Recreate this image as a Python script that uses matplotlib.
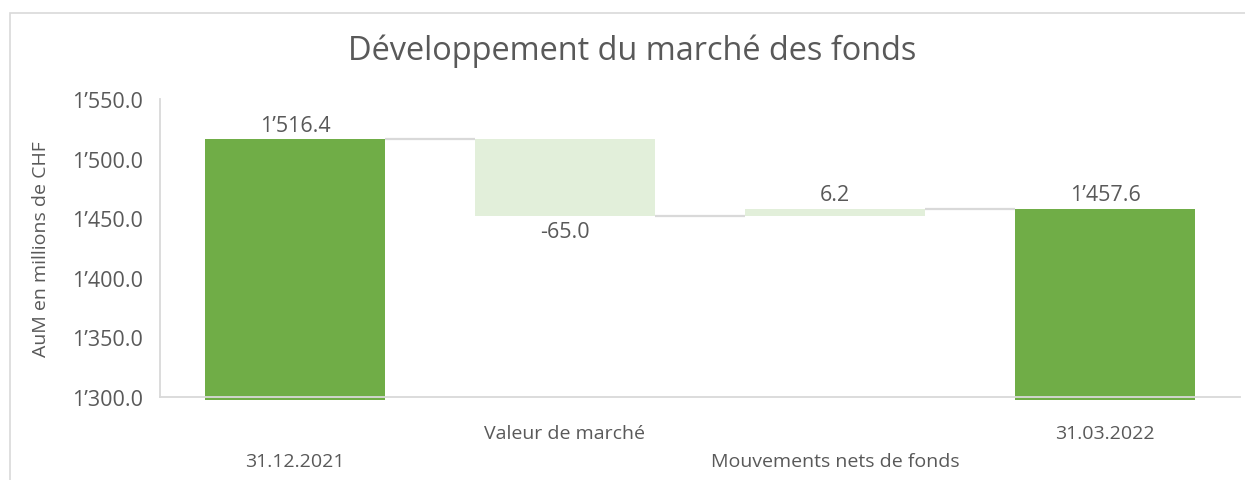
import matplotlib.pyplot as plt
import matplotlib.patches as patches
import numpy as np

plt.rcParams['font.family'] = ['Open Sans', 'DejaVu Sans']

categories = ['31.12.2021', 'Valeur de marché', 'Mouvements nets de fonds', '31.03.2022']
values = [1516.4, -65.0, 6.2, 1457.6]
is_total = [True, False, False, True]
y_ticks = [1300, 1350, 1400, 1450, 1500, 1550]

dark = '#70AD47'
light = '#E2EFDA'
grey_line = '#D9D9D9'
text_col = '#595959'


def fmt(v):
    return f'{v:,.1f}'.replace(',', '\u2019')


# waterfall geometry
x = np.arange(len(categories))
bottoms, heights, levels = [], [], []
level = 0.0
for v, tot in zip(values, is_total):
    if tot:
        bottoms.append(None)
        heights.append(v)
        level = v
    else:
        bottoms.append(min(level, level + v))
        heights.append(abs(v))
        level = level + v
    levels.append(level)

fig = plt.figure(figsize=(12.45, 4.81), dpi=100)
ax = fig.add_axes([160 / 1245, 1 - 397.5 / 481, 1080 / 1245, 297.5 / 481])

ymin = y_ticks[0]
overhang = 3.0  # total bars poke slightly below the axis like in Excel
width = 0.663
for i in range(len(values)):
    if is_total[i]:
        ax.bar(x[i], heights[i] - ymin + overhang, bottom=ymin - overhang, width=width,
               color=dark, clip_on=False, zorder=2)
    else:
        ax.bar(x[i], heights[i], bottom=bottoms[i], width=width, color=light, zorder=2)

# connectors
for i in range(len(values) - 1):
    ax.plot([x[i] + width / 2, x[i + 1] - width / 2], [levels[i], levels[i]],
            color=grey_line, lw=1.6, zorder=1, solid_capstyle='butt')

# value labels
num_size = 15.5
for i, v in enumerate(values):
    if is_total[i] or v >= 0:
        top = heights[i] if is_total[i] else bottoms[i] + heights[i]
        ax.annotate(fmt(v) if is_total[i] else f'{v:.1f}', (x[i], top), xytext=(0, 2.5),
                    textcoords='offset points', ha='center', va='bottom',
                    fontsize=num_size, color=text_col)
    else:
        ax.annotate(f'{v:.1f}', (x[i], bottoms[i]), xytext=(0, -3.5),
                    textcoords='offset points', ha='center', va='top',
                    fontsize=num_size, color=text_col)

ax.set_xlim(-0.5, len(categories) - 0.5)
ax.set_ylim(ymin, y_ticks[-1])
ax.set_yticks(y_ticks)
ax.set_yticklabels([fmt(t) for t in y_ticks], fontsize=num_size)
ax.set_xticks(x)
ax.set_xticklabels([('\n' + c) if i % 2 == 0 else c for i, c in enumerate(categories)],
                   linespacing=1.72, fontsize=14)
ax.tick_params(axis='both', length=0, labelcolor=text_col)
ax.tick_params(axis='y', pad=12)
ax.tick_params(axis='x', pad=20)

for s in ['top', 'right']:
    ax.spines[s].set_visible(False)
for s in ['left', 'bottom']:
    ax.spines[s].set_color(grey_line)
    ax.spines[s].set_linewidth(1.3)
    ax.spines[s].set_zorder(3)

ax.set_ylabel('AuM en millions de CHF', fontsize=14, color=text_col, va='center')
ax.yaxis.set_label_coords(-119 / 1080, 0.5)

fig.text(632 / 1245, 1 - 51 / 481, 'Développement du marché des fonds',
         ha='center', va='center', fontsize=23.4, color=text_col)

# chart area frame
fig.patches.append(patches.Rectangle((9.5 / 1245, -0.1), 1.2, 1.1 - 14 / 481,
                                     transform=fig.transFigure, fill=False,
                                     edgecolor=grey_line, lw=1.2))

plt.savefig('out.png', dpi=100)
